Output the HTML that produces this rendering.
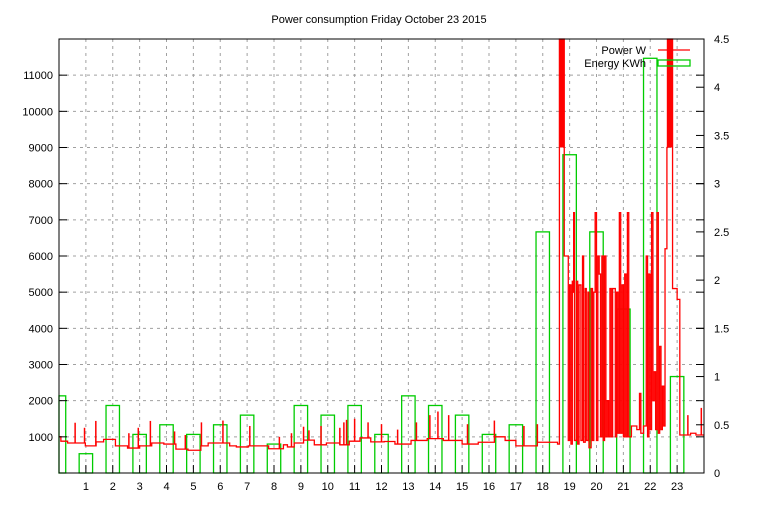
<!DOCTYPE html>
<html><head><meta charset="utf-8"><style>
body{margin:0;background:#fff;}
svg text{font-family:"Liberation Sans","DejaVu Sans",sans-serif;font-size:11px;fill:#000;}
</style></head><body>
<svg id="c" width="768" height="500" xmlns="http://www.w3.org/2000/svg">
<text x="379" y="23" text-anchor="middle">Power consumption Friday October 23 2015</text>
<g id="grid"></g><g id="energy"></g><g id="power"></g><g id="axes"></g>
<g>
<text x="646" y="54" text-anchor="end">Power W</text>
<line x1="658" y1="50" x2="690" y2="50" stroke="#f00" stroke-width="1.3"/>
<text x="646" y="67" text-anchor="end">Energy KWh</text>
<rect x="658" y="60" width="32" height="6" fill="none" stroke="#0c0" stroke-width="1.3"/>
</g>
</svg>
<script>
const leftTicks=[1000,2000,3000,4000,5000,6000,7000,8000,9000,10000,11000];
const rightTicks=[0,0.5,1,1.5,2,2.5,3,3.5,4,4.5];
const rightLabels=["0","0.5","1","1.5","2","2.5","3","3.5","4","4.5"];
const hourTicks=[1,2,3,4,5,6,7,8,9,10,11,12,13,14,15,16,17,18,19,20,21,22,23];
const energyHours=[0,1,2,3,4,5,6,7,8,9,10,11,12,13,14,15,16,17,18,19,20,21,22,23];
const energyKWh=[0.8,0.2,0.7,0.4,0.5,0.4,0.5,0.6,0.3,0.7,0.6,0.7,0.4,0.8,0.7,0.6,0.4,0.5,2.5,3.3,2.5,1.7,4.3,1.0];
const powerT=[0,0.07,0.32,0.98,1.38,1.66,2.1,2.55,3.0,3.45,3.9,4.35,4.8,5.28,5.55,6.35,6.6,7.05,7.8,8.35,8.5,8.75,9.1,9.5,9.95,10.45,10.8,11.2,11.6,12.1,12.5,13.1,13.7,14.3,15,15.6,16.2,16.6,17,17.8,18.55,
18.62,18.8,18.95,19.0,19.05,19.1,19.12,19.15,19.18,19.25,19.3,19.35,19.42,19.48,19.52,19.58,19.62,19.68,19.72,19.8,19.85,19.9,19.95,20.0,20.05,20.1,20.15,20.2,20.25,20.3,20.35,20.4,20.45,20.5,20.55,20.6,20.7,20.75,20.8,20.85,20.9,20.95,21.0,21.05,21.1,21.15,21.2,21.3,21.5,21.6,21.65,21.75,21.85,21.9,21.95,22.0,22.05,22.1,22.15,22.2,22.25,22.3,22.35,22.4,22.45,22.5,22.55,22.6,22.62,22.64,22.83,23.0,23.1,23.5,23.7,24];
const powerW=[1000,880,830,750,860,930,750,690,750,830,800,660,630,750,830,750,720,750,670,780,720,830,910,780,830,780,880,970,860,870,800,900,950,900,800,850,1000,900,750,850,800,
12500,6000,900,5200,800,5300,5000,7200,900,5300,800,5200,900,6000,850,5100,900,5000,700,5100,900,5000,7200,900,6000,5500,1000,6000,900,6000,1000,2000,1000,5100,1000,5100,1000,5000,1100,7200,1100,5200,1000,5500,1000,7200,1000,1300,1200,2200,1100,1300,6000,1000,5500,1200,7200,2000,2800,1200,7200,1100,3500,1200,2400,1300,6200,6200,9000,12500,5100,4800,1050,1100,1050,1050];
const spikeT=[0.6,0.95,1.37,2.6,2.95,3.4,4.3,4.7,5.3,6.1,7.1,8.2,8.65,9.1,9.3,9.75,10.45,10.6,10.7,11.0,11.5,12.0,12.6,13.3,13.8,14.1,14.5,15.2,16.2,17.3,17.8,23.4,23.9];
const spikeW=[1390,1250,1440,1100,1250,1440,1150,1050,1400,1450,1300,1000,1100,1280,1180,1300,1250,1400,1470,1500,1400,1350,1200,1400,1600,1700,1600,1350,1450,1300,1350,1600,1800];
const satStart=[18.62,22.64], satEnd=[18.8,22.83];
const X0=59,X1=704,Y0=473,Y1=39;
const xs=h=>X0+(h/24)*(X1-X0);
const yl=w=>Y0-(w/12000)*(Y0-Y1);
const yr=v=>Y0-(v/4.5)*(Y0-Y1);
const NS="http://www.w3.org/2000/svg";
function mk(tag,attrs,parent){const e=document.createElementNS(NS,tag);for(const k in attrs)e.setAttribute(k,attrs[k]);document.getElementById(parent).appendChild(e);return e;}
leftTicks.forEach(t=>{
 const g=mk('line',{x1:X0,x2:X1,y1:yl(t),y2:yl(t),stroke:'#a0a0a0','stroke-dasharray':'3,4'},'grid');
 
 
 const tk=mk('line',{x1:X0,x2:X0+8,y1:yl(t),y2:yl(t),stroke:'#000'},'axes');
 
 
 const tk2=mk('line',{x1:X1-8,x2:X1,y1:yl(t),y2:yl(t),stroke:'#000'},'axes');
 
 
 const tx=mk('text',{x:X0-6,y:yl(t)+4,'text-anchor':'end'},'axes');tx.textContent=t;
 
 
});
rightTicks.forEach((t,i)=>{
 const tk=mk('line',{x1:X1-8,x2:X1,y1:yr(t),y2:yr(t),stroke:'#000'},'axes');
 
 
 const tx=mk('text',{x:X1+10,y:yr(t)+4},'axes');tx.textContent=rightLabels[i];
 
 
});
hourTicks.forEach(h=>{
 const g=mk('line',{x1:xs(h),x2:xs(h),y1:Y1,y2:Y0,stroke:'#a0a0a0','stroke-dasharray':'3,4'},'grid');
 
 
 const tk=mk('line',{x1:xs(h),x2:xs(h),y1:Y0-8,y2:Y0,stroke:'#000'},'axes');
 
 
 const tx=mk('text',{x:xs(h),y:490,'text-anchor':'middle'},'axes');tx.textContent=h;
 
 
});
const fr=mk('rect',{x:X0,y:Y1,width:X1-X0,height:Y0-Y1,fill:'none',stroke:'#000'},'axes');


energyHours.forEach((h,i)=>{
 const a=Math.max(0,h-0.25),b=Math.min(24,h+0.25);
 const r=mk('rect',{x:xs(a),y:yr(energyKWh[i]),width:xs(b)-xs(a),height:Y0-yr(energyKWh[i]),fill:'none',stroke:'#0c0','stroke-width':1.3},'energy');
 
 
});
let d='';
for(let i=0;i<powerT.length;i++){
 const x=xs(powerT[i]),y=Math.max(Y1,yl(powerW[i]));
 if(i===0)d+='M'+x+','+y;else d+=' L'+x+','+Math.max(Y1,yl(powerW[i-1]))+' L'+x+','+y;
}
const p=mk('path',{d:d,fill:'none',stroke:'#f00','stroke-width':1.3},'power');


satStart.forEach((s,i)=>{
 const r=mk('rect',{x:xs(s),y:Y1,width:xs(satEnd[i])-xs(s),height:yl(9000)-Y1,fill:'#f00'},'power');
 
 
});
spikeT.forEach((t,i)=>{
 const base=(()=>{let v=powerW[0];for(let k=0;k<powerT.length;k++){if(powerT[k]<=t)v=powerW[k];}return v;})();
 const l=mk('line',{x1:xs(t),x2:xs(t),y1:yl(base),y2:yl(spikeW[i]),stroke:'#f00','stroke-width':1.5},'power');
 
 
});
</script>
</body></html>
